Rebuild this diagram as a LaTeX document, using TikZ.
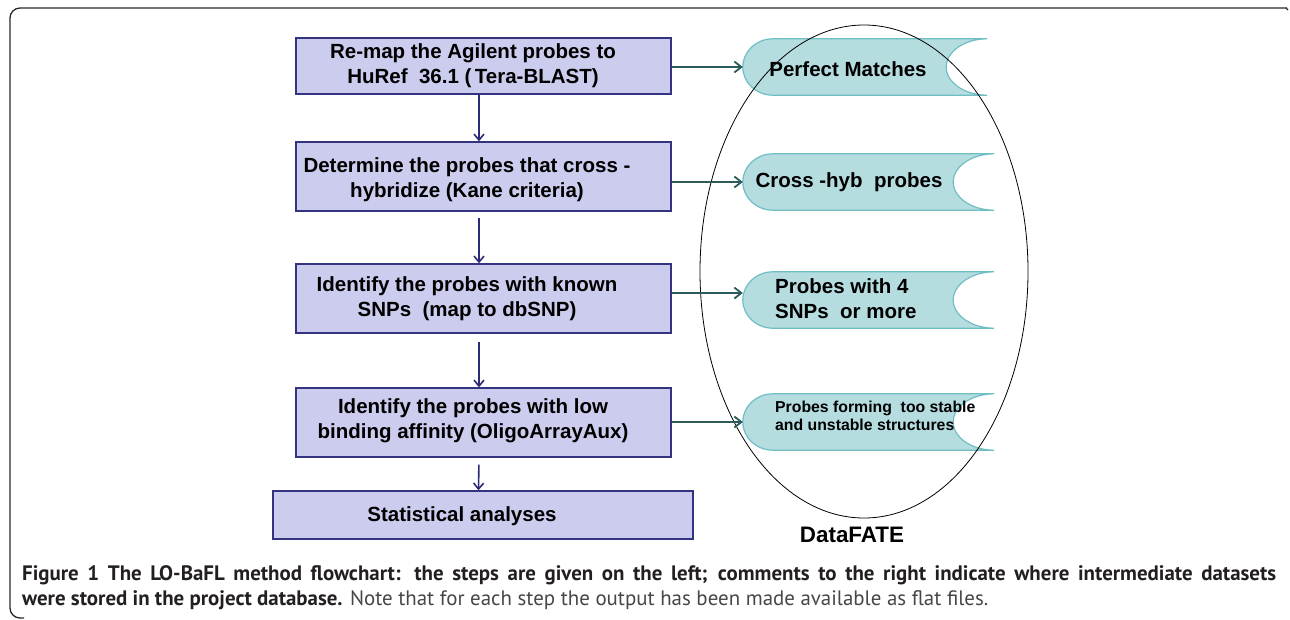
\documentclass[tikz,border=0pt]{standalone}
\usepackage{fontspec}
\setmainfont{Liberation Sans}
\newfontfamily\capfont{PT Sans}
\usetikzlibrary{arrows.meta,calc,shapes.geometric}
\definecolor{boxfill}{RGB}{204,204,238}
\definecolor{boxline}{RGB}{51,51,128}
\definecolor{vline}{RGB}{43,43,120}
\definecolor{hline}{RGB}{45,90,90}
\definecolor{dfill}{RGB}{181,221,224}
\definecolor{dline}{RGB}{110,190,196}
\definecolor{captext}{RGB}{35,31,32}
\definecolor{capgray}{RGB}{70,70,70}
\definecolor{framecol}{RGB}{40,40,40}
\tikzset{
  stepbox/.style={draw=boxline, fill=boxfill, line width=1.4pt, inner sep=0pt},
  steptext/.style={font=\bfseries\fontsize{20.5}{25}\selectfont, align=center, inner sep=0pt},
  dnode/.style={inner sep=0pt, minimum height=56pt},
  dshape/.style={draw=dline, fill=dfill, line width=1.2pt},
  dtext/.style={font=\bfseries\fontsize{20.5}{25}\selectfont, inner sep=0pt},
  dtextsmall/.style={font=\bfseries\fontsize{15.8}{18}\selectfont, inner sep=0pt, align=left},
  varrow/.style={draw=vline, line width=1.6pt, -{Straight Barb[length=6pt,width=10pt,line width=1.6pt]}},
  harrow/.style={draw=hline, line width=1.8pt, -{Straight Barb[length=7pt,width=11pt,line width=1.8pt]}},
  captxt/.style={font=\capfont\fontsize{20.9}{24}\selectfont, text=captext, inner sep=0pt}
}
\newcommand\datashape[1]{%
  \path[dshape] ($(#1.north west)+(30,0)$) -- (#1.north east)
    .. controls ($(#1.north east)+(-22.6,0)$) and ($(#1.east)+(-41,-15.46)$) .. ($(#1.east)+(-41,0)$)
    .. controls ($(#1.east)+(-41,15.46)$) and ($(#1.south east)+(-22.6,0)$) .. (#1.south east)
    -- ($(#1.south west)+(30,0)$)
    .. controls ($(#1.south west)+(13.4,0)$) and ($(#1.west)+(0,15.46)$) .. (#1.west)
    .. controls ($(#1.west)+(0,-15.46)$) and ($(#1.north west)+(13.4,0)$) .. ($(#1.north west)+(30,0)$)
    -- cycle;}
\begin{document}
\begin{tikzpicture}[x=1pt,y=-1pt]
\useasboundingbox (0,0) rectangle (1290,619);
% frame
\draw[framecol, line width=1.3pt, rounded corners=10pt] (24,618) -- (10,618) -- (10,8) -- (1287,8);
\draw[framecol, line width=1.3pt] (1286,8) -- (1288,10);

% step boxes
\node[stepbox, minimum width=375pt, minimum height=56pt] (b1) at (483.5,66) {};
\node[stepbox, minimum width=375pt, minimum height=69pt] (b2) at (483.5,176.5) {};
\node[stepbox, minimum width=375pt, minimum height=69pt] (b3) at (483.5,298.5) {};
\node[stepbox, minimum width=375pt, minimum height=69pt] (b4) at (483.5,422.5) {};
\node[stepbox, minimum width=420pt, minimum height=48pt] (b5) at (483,515) {};

\node[steptext] (t1) at (473,65.5) {Re-map the Agilent probes to\\HuRef\ \ 36.1 (\,Tera-BLAST)};
\node[steptext] (t2) at (467,180) {Determine the probes that cross -\\hybridize (Kane criteria)};
\node[steptext] (t3) at (467,299) {Identify the probes with known\\SNPs\ \ (map to dbSNP)};
\node[steptext] (t4) at (473,421) {Identify the probes with low\\binding affinity (OligoArrayAux)};
\node[steptext] (t5) at (462,516) {Statistical analyses};

% vertical arrows
\draw[varrow] ([xshift=-4.5pt]b1.south) -- ([xshift=-4.5pt]b2.north);
\draw[varrow, shorten <=6pt] ([xshift=-4.5pt]b2.south) -- ([xshift=-4.5pt]b3.north);
\draw[varrow, shorten <=8pt] ([xshift=-4.5pt]b3.south) -- ([xshift=-4.5pt]b4.north);
\draw[varrow, shorten <=7pt] ([xshift=-4.5pt]b4.south) -- ([xshift=-4.5pt]b5.north);

% data shapes
\node[dnode, minimum width=244pt] (d1) at (865,67) {};
\node[dnode, minimum width=251pt] (d2) at (868.5,182) {};
\node[dnode, minimum width=251pt] (d3) at (868.5,300) {};
\node[dnode, minimum width=251pt] (d4) at (868.5,422) {};
\datashape{d1}
\datashape{d2}
\datashape{d3}
\datashape{d4}
\coordinate (d3in) at ([yshift=7pt]d3.west);

% data store ellipse
\node[draw=black, line width=0.8pt, ellipse, minimum width=328pt, minimum height=493pt, inner sep=0pt] (store) at (864,271.5) {};

\node[dtext] (s1) at (848,69) {Perfect Matches};
\node[dtext] (s2) at (849,182) {Cross -hyb\ \ probes};
\node[dtext, anchor=west, align=left] (s3) at (775,299) {Probes with 4\\SNPs\ \ or more};
\node[dtextsmall, anchor=west] (s4) at (775,416) {Probes forming\ \ too stable\\and unstable structures};

% horizontal arrows
\draw[harrow] (b1.east |- d1.west) -- (d1.west);
\draw[harrow] (b2.east |- d2.west) -- (d2.west);
\draw[harrow] (b3.east |- d3in) -- (d3in);
\draw[harrow] (b4.east |- d4.west) -- (d4.west);

\node[font=\bfseries\fontsize{22.4}{26}\selectfont, inner sep=0pt] (lbl) at (852,535) {DataFATE};

% caption
\node[captxt, anchor=west] (c1) at (22,575) {\makebox[1254pt][s]{\bfseries Figure 1 The LO-BaFL method flowchart: the steps are given on the left; comments to the right indicate where intermediate datasets}};
\node[captxt, anchor=west] (c2) at (22,600) {{\bfseries were stored in the project database.} {\color{capgray}Note that for each step the output has been made available as flat files.}};
\end{tikzpicture}
\end{document}
